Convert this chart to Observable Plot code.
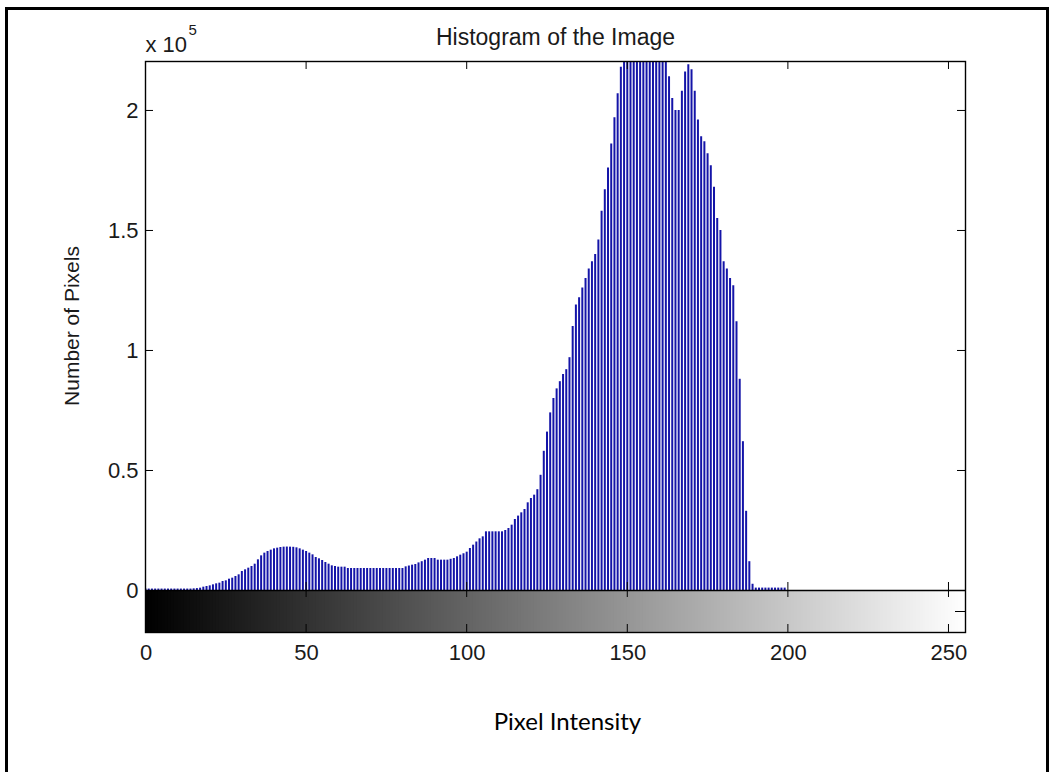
<!DOCTYPE html>
<html>
<head>
<meta charset="utf-8">
<script src="https://cdn.jsdelivr.net/npm/d3@7"></script>
<script src="https://cdn.jsdelivr.net/npm/@observablehq/plot@0.6"></script>
<style>
html, body { margin: 0; padding: 0; background: #fff; overflow: hidden; }
#wrap { position: relative; width: 1053px; height: 772px; overflow: hidden; }
#border { position: absolute; left: 5px; top: 7px; width: 1044px; height: 820px; border: 3px solid #000; box-sizing: border-box; }
#chart { position: absolute; left: 0; top: 0; }
g[aria-label="title"] text { letter-spacing: 0.6px; }
g[aria-label="ylabel"] text { letter-spacing: 0.8px; }
g[aria-label="xticklabels"] text, g[aria-label="yticklabels"] text { letter-spacing: 1px; }
g[aria-label="xlabel"] text { letter-spacing: 0.4px; }
</style>
</head>
<body>
<div id="wrap"><div id="border"></div><div id="chart"></div></div>
<script>
// ---- data ----
const counts = [
  600, 600, 600, 600, 600, 600, 600, 600, 600, 600, 600, 600, 600, 600, 600, 700,
  800, 970, 1390, 1670, 1940, 2360, 2780, 3060, 3750, 4030, 4720, 5140, 5830, 6530, 7920, 8610,
  9310, 10000, 10970, 12780, 14440, 15560, 16250, 16810, 17360, 17640, 17920, 18060, 18100, 18060, 18000, 17780,
  17360, 16810, 16250, 15560, 14860, 13750, 13200, 12500, 11670, 10970, 10280, 10000, 9720, 9720, 9720, 9170,
  9170, 9170, 9170, 9170, 9170, 9170, 9170, 9170, 9170, 9170, 9170, 9170, 9170, 9170, 9170, 9170,
  9170, 9860, 10200, 10560, 10830, 11500, 12000, 12640, 13330, 13330, 13330, 12640, 12640, 12640, 12640, 13000,
  13330, 14030, 14720, 15300, 15970, 17500, 18890, 20200, 21530, 22360, 24450, 24450, 24450, 24450, 24450, 24450,
  25000, 25830, 27220, 29580, 31000, 32360, 33750, 36530, 38330, 39720, 42000, 48000, 58000, 66000, 74000, 80000,
  84000, 87000, 90000, 92000, 97000, 110000, 119000, 122000, 126000, 130000, 134000, 137000, 140000, 146000, 158000, 167000,
  176000, 186000, 197000, 207000, 218000, 228000, 235000, 240000, 245000, 248000, 250000, 250000, 248000, 245000, 240000, 235000,
  230000, 226000, 222000, 214000, 205000, 200000, 200000, 208000, 216000, 219000, 217000, 208000, 196000, 189000, 187000, 182000,
  177000, 168000, 155000, 150000, 137000, 134000, 130000, 127000, 112000, 88000, 62000, 33000, 12000, 2600, 1000, 1000,
  1000, 1000, 1000, 1000, 1000, 1000, 1000, 1000, 0, 0, 0, 0, 0, 0, 0, 0,
  0, 0, 0, 0, 0, 0, 0, 0, 0, 0, 0, 0, 0, 0, 0, 0,
  0, 0, 0, 0, 0, 0, 0, 0, 0, 0, 0, 0, 0, 0, 0, 0,
  0, 0, 0, 0, 0, 0, 0, 0, 0, 0, 0, 0, 0, 0, 0, 0
];
const xTicks = [0, 50, 100, 150, 200, 250];
const yTicks = [0, 50000, 100000, 150000, 200000];
const yTickLabels = ["0", "0.5", "1", "1.5", "2"];
const colorbarTicks = [0.5];
const titleText = "Histogram of the Image";
const yLabelText = "Number of Pixels";
const xLabelText = "Pixel Intensity";
const exponentBase = "x 10";
const exponentPower = "5";

(function () {
  // ---- layout ----
  const W = 1053, H = 772;
  const axL = 145, axR = 965, axT = 61, zeroY = 590, axB = 632;
  const xMax = 255.3, yMax = 220400;
  const pxPerUnit = (zeroY - axT) / yMax;
  const yMin = -(axB - zeroY) / pxPerUnit;
  const frameH = axB - axT, frameW = axR - axL;
  const tk = 8;
  const font = "Liberation Sans, Arial, Helvetica, sans-serif";
  const ink = "#1a1a1a";

  const intensity = counts.map((_, i) => i);
  const cbY = v => yMin * (1 - v); // colorbar axis (0 at bottom, 1 at top)
  const inner = xTicks.filter(d => d > 0);

  const chart = Plot.plot({
    width: W, height: H,
    marginLeft: axL, marginRight: W - axR, marginTop: axT, marginBottom: H - axB,
    style: { fontFamily: font, background: "transparent", color: "black" },
    x: { domain: [0, xMax], axis: null },
    y: { domain: [yMin, yMax], axis: null },
    marks: [
      // grayscale colorbar
      Plot.rect(intensity, {
        x1: d => d, x2: d => d + 1.6, y1: yMin, y2: 0,
        fill: d => `rgb(${d},${d},${d})`, clip: true
      }),
      // histogram stems
      Plot.ruleX(intensity, {
        x: d => d, y1: 0, y2: d => counts[d],
        stroke: "#1414a8", strokeWidth: 2, clip: true
      }),
      Plot.frame({ stroke: "black", strokeWidth: 1.4 }),
      Plot.ruleY([0], { stroke: "black", strokeWidth: 1.4 }),
      // x ticks (inward) for histogram and colorbar
      Plot.tickX(inner, { x: d => d, stroke: "black", insetBottom: frameH - tk }),
      Plot.tickX(inner, { x: d => d, stroke: "black", insetTop: (zeroY - axT) - tk, insetBottom: axB - zeroY }),
      Plot.tickX(inner, { x: d => d, stroke: "black", insetTop: (zeroY - axT), insetBottom: axB - zeroY - tk + 1 }),
      Plot.tickX(inner, { x: d => d, stroke: "black", insetTop: frameH - tk }),
      // y ticks (inward) left and right
      Plot.tickY(yTicks.filter(d => d > 0), { y: d => d, stroke: "black", insetRight: frameW - tk }),
      Plot.tickY(yTicks.filter(d => d > 0), { y: d => d, stroke: "black", insetLeft: frameW - tk }),
      Plot.tickY(colorbarTicks, { y: cbY, stroke: "black", insetLeft: frameW - tk - 2 }),
      // tick labels
      Plot.text(xTicks, {
        x: d => d, text: d => String(d), frameAnchor: "bottom", lineAnchor: "middle", dy: 20, dx: 0.5,
        fontSize: 22, fontFamily: font, fill: ink, ariaLabel: "xticklabels"
      }),
      Plot.text(yTicks, {
        y: d => d, text: (d, i) => yTickLabels[i], frameAnchor: "left", textAnchor: "end", lineAnchor: "middle", dx: -7,
        fontSize: 22, fontFamily: font, fill: ink, ariaLabel: "yticklabels"
      }),
      // exponent
      Plot.text([exponentBase], {
        text: d => d, frameAnchor: "top-left", textAnchor: "start", lineAnchor: "middle", dy: -17,
        fontSize: 22, fontFamily: font, fill: ink
      }),
      Plot.text([exponentPower], {
        text: d => d, frameAnchor: "top-left", textAnchor: "start", lineAnchor: "middle", dy: -31, dx: 43,
        fontSize: 15, fontFamily: font, fill: ink
      }),
      // title
      Plot.text([titleText], {
        text: d => d, frameAnchor: "top", lineAnchor: "middle", dy: -24,
        fontSize: 23, fontFamily: font, fill: ink, ariaLabel: "title"
      }),
      // y label
      Plot.text([yLabelText], {
        text: d => d, frameAnchor: "left", textAnchor: "middle", lineAnchor: "middle", rotate: -90,
        dx: -73, dy: -(axB - zeroY) / 2,
        fontSize: 21, fontFamily: font, fill: ink, ariaLabel: "ylabel"
      }),
      // x label
      Plot.text([xLabelText], {
        text: d => d, frameAnchor: "bottom", lineAnchor: "middle", dy: 90, dx: 12,
        fontSize: 24, fontFamily: "Lato, 'Open Sans', sans-serif", fill: "#000", ariaLabel: "xlabel"
      })
    ]
  });
  document.getElementById("chart").appendChild(chart);
})();
</script>
</body>
</html>
